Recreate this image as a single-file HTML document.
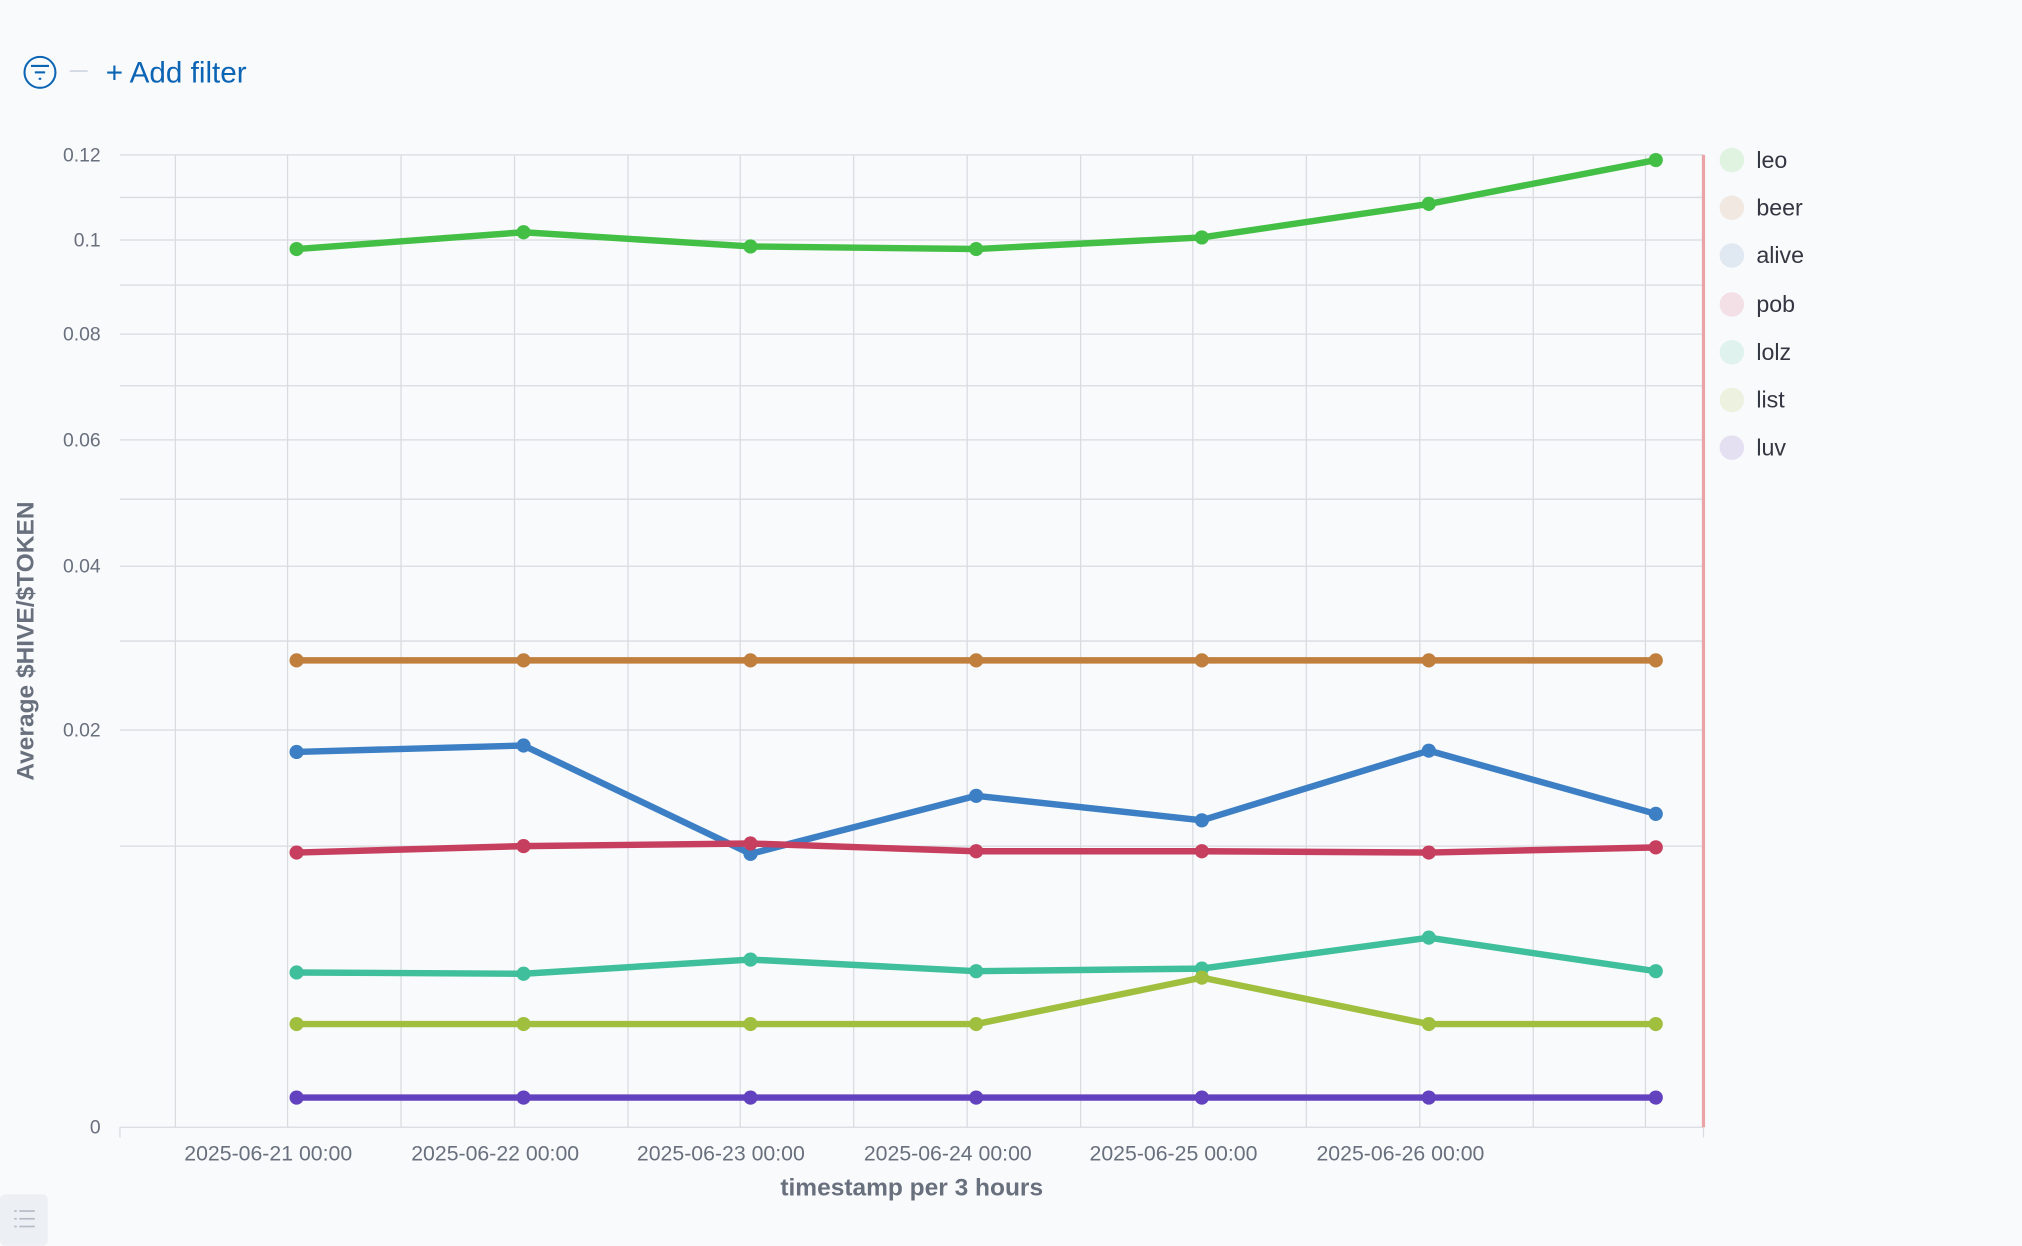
<!DOCTYPE html>
<html><head><meta charset="utf-8"><style>
html,body{margin:0;padding:0;background:#f9fafc;}
svg{display:block;font-family:"Liberation Sans",sans-serif;}
</style></head><body>
<svg width="2022" height="1246" viewBox="0 0 1568 966" xmlns="http://www.w3.org/2000/svg">
<rect width="1568" height="966" fill="#f9fafc"/>
<circle cx="31" cy="56" r="12" fill="none" stroke="#0b64b4" stroke-width="1.6"/>
<line x1="24" y1="51" x2="38" y2="51" stroke="#0b64b4" stroke-width="1.6"/>
<line x1="27" y1="56" x2="35" y2="56" stroke="#0b64b4" stroke-width="1.6"/>
<line x1="30" y1="61" x2="32" y2="61" stroke="#0b64b4" stroke-width="1.6"/>
<line x1="54" y1="55" x2="68" y2="55" stroke="#d3dae6" stroke-width="1.5"/>
<text x="82" y="64" font-size="23" fill="#0b64b4">+ Add filter</text>
<g stroke="#d8dbe0" stroke-width="1">
<line x1="93" y1="120" x2="1321" y2="120"/><line x1="93" y1="153" x2="1321" y2="153"/>
<line x1="93" y1="186" x2="1321" y2="186"/><line x1="93" y1="221" x2="1321" y2="221"/>
<line x1="93" y1="259" x2="1321" y2="259"/><line x1="93" y1="299" x2="1321" y2="299"/>
<line x1="93" y1="341" x2="1321" y2="341"/><line x1="93" y1="387" x2="1321" y2="387"/>
<line x1="93" y1="439" x2="1321" y2="439"/><line x1="93" y1="497" x2="1321" y2="497"/>
<line x1="93" y1="566" x2="1321" y2="566"/><line x1="93" y1="656" x2="1321" y2="656"/>
<line x1="93" y1="874" x2="1321" y2="874"/>
<line x1="136" y1="120" x2="136" y2="874"/><line x1="223" y1="120" x2="223" y2="874"/>
<line x1="311" y1="120" x2="311" y2="874"/><line x1="399" y1="120" x2="399" y2="874"/>
<line x1="487" y1="120" x2="487" y2="874"/><line x1="574" y1="120" x2="574" y2="874"/>
<line x1="662" y1="120" x2="662" y2="874"/><line x1="750" y1="120" x2="750" y2="874"/>
<line x1="838" y1="120" x2="838" y2="874"/><line x1="925" y1="120" x2="925" y2="874"/>
<line x1="1013" y1="120" x2="1013" y2="874"/><line x1="1101" y1="120" x2="1101" y2="874"/>
<line x1="1189" y1="120" x2="1189" y2="874"/><line x1="1276" y1="120" x2="1276" y2="874"/>
<line x1="93" y1="874" x2="93" y2="882"/><line x1="1321" y1="874" x2="1321" y2="882"/>
</g>
<line x1="1321" y1="120" x2="1321" y2="874" stroke="#eaa3a6" stroke-width="2.5"/>
<g font-size="15" fill="#69707d" text-anchor="end">
<text x="78" y="125">0.12</text><text x="78" y="191">0.1</text><text x="78" y="264">0.08</text>
<text x="78" y="346">0.06</text><text x="78" y="444">0.04</text><text x="78" y="571">0.02</text>
<text x="78" y="879">0</text>
</g>
<text transform="translate(26,497) rotate(-90)" font-size="19" font-weight="bold" fill="#69707d" text-anchor="middle">Average $HIVE/$TOKEN</text>
<g font-size="16.5" fill="#69707d" text-anchor="middle">
<text x="208" y="900">2025-06-21 00:00</text><text x="384" y="900">2025-06-22 00:00</text>
<text x="559" y="900">2025-06-23 00:00</text><text x="735" y="900">2025-06-24 00:00</text>
<text x="910" y="900">2025-06-25 00:00</text><text x="1086" y="900">2025-06-26 00:00</text>
</g>
<text x="707" y="927" font-size="19" font-weight="bold" fill="#69707d" text-anchor="middle">timestamp per 3 hours</text>
<g fill="none" stroke-width="5" stroke-linejoin="round">
<polyline stroke="#43bf45" points="230,193 406,180 582,191 757,193 932,184 1108,158 1284,124"/>
<polyline stroke="#c17f3e" points="230,512 406,512 582,512 757,512 932,512 1108,512 1284,512"/>
<polyline stroke="#3d7fc4" points="230,583 406,578 582,662 757,617 932,636 1108,582 1284,631"/>
<polyline stroke="#c63f5e" points="230,661 406,656 582,654 757,660 932,660 1108,661 1284,657"/>
<polyline stroke="#3fbf9b" points="230,754 406,755 582,744 757,753 932,751 1108,727 1284,753"/>
<polyline stroke="#a0bf3e" points="230,794 406,794 582,794 757,794 932,758 1108,794 1284,794"/>
<polyline stroke="#6342bf" points="230,851 406,851 582,851 757,851 932,851 1108,851 1284,851"/>
</g>
<g>
<g fill="#43bf45"><circle cx="230" cy="193" r="5.5"/><circle cx="406" cy="180" r="5.5"/><circle cx="582" cy="191" r="5.5"/><circle cx="757" cy="193" r="5.5"/><circle cx="932" cy="184" r="5.5"/><circle cx="1108" cy="158" r="5.5"/><circle cx="1284" cy="124" r="5.5"/></g>
<g fill="#c17f3e"><circle cx="230" cy="512" r="5.5"/><circle cx="406" cy="512" r="5.5"/><circle cx="582" cy="512" r="5.5"/><circle cx="757" cy="512" r="5.5"/><circle cx="932" cy="512" r="5.5"/><circle cx="1108" cy="512" r="5.5"/><circle cx="1284" cy="512" r="5.5"/></g>
<g fill="#3d7fc4"><circle cx="230" cy="583" r="5.5"/><circle cx="406" cy="578" r="5.5"/><circle cx="582" cy="662" r="5.5"/><circle cx="757" cy="617" r="5.5"/><circle cx="932" cy="636" r="5.5"/><circle cx="1108" cy="582" r="5.5"/><circle cx="1284" cy="631" r="5.5"/></g>
<g fill="#c63f5e"><circle cx="230" cy="661" r="5.5"/><circle cx="406" cy="656" r="5.5"/><circle cx="582" cy="654" r="5.5"/><circle cx="757" cy="660" r="5.5"/><circle cx="932" cy="660" r="5.5"/><circle cx="1108" cy="661" r="5.5"/><circle cx="1284" cy="657" r="5.5"/></g>
<g fill="#3fbf9b"><circle cx="230" cy="754" r="5.5"/><circle cx="406" cy="755" r="5.5"/><circle cx="582" cy="744" r="5.5"/><circle cx="757" cy="753" r="5.5"/><circle cx="932" cy="751" r="5.5"/><circle cx="1108" cy="727" r="5.5"/><circle cx="1284" cy="753" r="5.5"/></g>
<g fill="#a0bf3e"><circle cx="230" cy="794" r="5.5"/><circle cx="406" cy="794" r="5.5"/><circle cx="582" cy="794" r="5.5"/><circle cx="757" cy="794" r="5.5"/><circle cx="932" cy="758" r="5.5"/><circle cx="1108" cy="794" r="5.5"/><circle cx="1284" cy="794" r="5.5"/></g>
<g fill="#6342bf"><circle cx="230" cy="851" r="5.5"/><circle cx="406" cy="851" r="5.5"/><circle cx="582" cy="851" r="5.5"/><circle cx="757" cy="851" r="5.5"/><circle cx="932" cy="851" r="5.5"/><circle cx="1108" cy="851" r="5.5"/><circle cx="1284" cy="851" r="5.5"/></g>
</g>
<g font-size="18" fill="#343741">
<circle cx="1343" cy="124" r="9.5" fill="#e0f2e0"/><text x="1362" y="130">leo</text>
<circle cx="1343" cy="161" r="9.5" fill="#f1e8e1"/><text x="1362" y="167">beer</text>
<circle cx="1343" cy="198" r="9.5" fill="#e0e8f2"/><text x="1362" y="204">alive</text>
<circle cx="1343" cy="236" r="9.5" fill="#f2e0e6"/><text x="1362" y="242">pob</text>
<circle cx="1343" cy="273" r="9.5" fill="#dff2ee"/><text x="1362" y="279">lolz</text>
<circle cx="1343" cy="310" r="9.5" fill="#edf2e0"/><text x="1362" y="316">list</text>
<circle cx="1343" cy="347" r="9.5" fill="#e4e0f2"/><text x="1362" y="353">luv</text>
</g>
<rect x="0" y="926" width="37" height="40" rx="4" fill="#eceff4"/>
<g stroke="#b5bcc7" stroke-width="1.3">
<line x1="11" y1="939" x2="13" y2="939"/><line x1="15" y1="939" x2="27" y2="939"/>
<line x1="11" y1="945" x2="13" y2="945"/><line x1="15" y1="945" x2="27" y2="945"/>
<line x1="11" y1="951" x2="13" y2="951"/><line x1="15" y1="951" x2="27" y2="951"/>
</g>
</svg>
</body></html>
